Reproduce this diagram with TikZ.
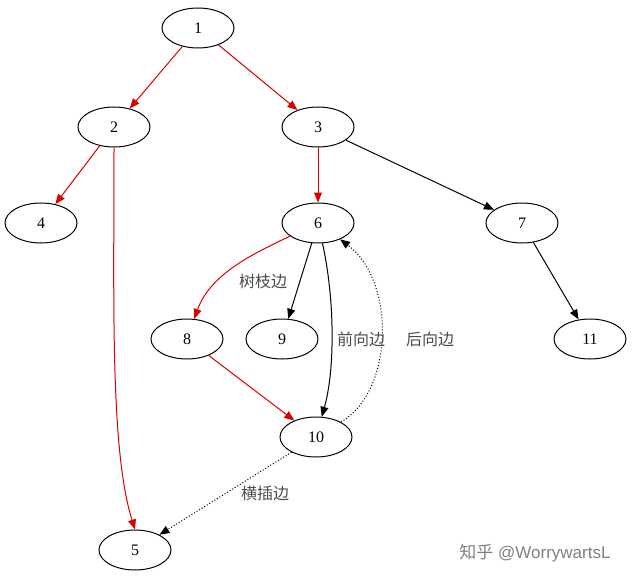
\documentclass[tikz,border=0pt]{standalone}
\usepackage{fontspec}
\setmainfont{Liberation Serif}
\newfontfamily\cjk{Noto Sans CJK SC}
\newfontfamily\wmfont{Liberation Sans}
\usetikzlibrary{shapes.geometric,arrows.meta}
\begin{document}
\begin{tikzpicture}[x=1pt,y=-1pt,
  nd/.style={ellipse,draw,line width=1pt,minimum width=72pt,minimum height=40pt,inner sep=0pt,font=\fontsize{16}{16}\selectfont},
  ed/.style={-{Triangle[length=10pt,width=8pt]},line width=1pt},
  tr/.style={ed,red!85!black,draw=red!85!black},
  lb/.style={font=\cjk\fontsize{16}{16}\selectfont,text=black!70}]
\useasboundingbox (0,0) rectangle (632,583);
\node[nd] (n1) at (198,28) {1};
\node[nd] (n2) at (114,127) {2};
\node[nd] (n3) at (318,127) {3};
\node[nd] (n4) at (41,223) {4};
\node[nd] (n6) at (318,223) {6};
\node[nd] (n7) at (522,223) {7};
\node[nd] (n8) at (187,339) {8};
\node[nd] (n9) at (282,339) {9};
\node[nd] (n11) at (590,339) {11};
\node[nd] (n10) at (316,437) {10};
\node[nd] (n5) at (135,550) {5};
\draw[tr] (n1) -- (n2);
\draw[tr] (n1) -- (n3);
\draw[tr] (n2) -- (n4);
\draw[tr] (n2.south) .. controls (114,300) and (110,450) .. (n5.north);
\draw[tr] (n3) -- (n6);
\draw[ed] (n3) -- (n7);
\draw[ed] (n7) -- (n11);
\draw[tr] (n6) .. controls (250,255) and (210,275) .. (n8);
\draw[ed] (n6) -- (n9);
\draw[ed] (n6) .. controls (335,300) and (335,370) .. (n10);
\draw[ed,dotted] (n10) .. controls (395,390) and (395,280) .. (n6);
\draw[tr] (n8) -- (n10);
\draw[ed,dotted] (n10) -- (n5);
\node[lb] (l1) at (263,281) {树枝边};
\node[lb] (l2) at (361,339) {前向边};
\node[lb] (l3) at (430,339) {后向边};
\node[lb] (l4) at (265,493) {横插边};
\node[font=\fontsize{17}{17}\selectfont\wmfont,text=black!50] (wm) at (535,553) {{\cjk 知乎} @WorrywartsL};
\end{tikzpicture}
\end{document}
